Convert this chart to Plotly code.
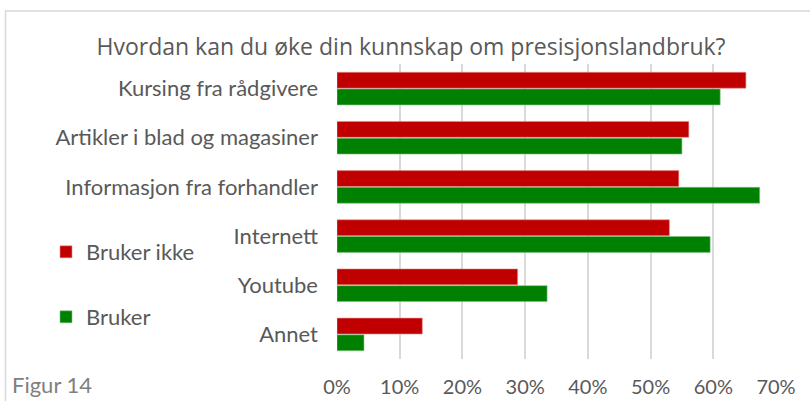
import plotly.graph_objects as go

categories = ["Kursing fra rådgivere", "Artikler i blad og magasiner", "Informasjon fra forhandler",
              "Internett", "Youtube", "Annet"]
bruker_ikke = [0.652, 0.561, 0.545, 0.530, 0.288, 0.136]
bruker = [0.611, 0.550, 0.674, 0.595, 0.335, 0.043]
tick_vals = [0, 0.1, 0.2, 0.3, 0.4, 0.5, 0.6, 0.7]
tick_text = ["0%", "10%", "20%", "30%", "40%", "50%", "60%", "70%"]
title_text = "Hvordan kan du øke din kunnskap om presisjonslandbruk?"
caption = "Figur 14"

W, H = 810, 401
TXT = "#595959"
LBL_FONT = "Lato, 'Open Sans', sans-serif"

def px_x(p):
    return p / W

def px_y(p):
    return 1 - p / H

fig = go.Figure()
fig.add_trace(go.Bar(y=categories, x=bruker_ikke, orientation="h", name="Bruker ikke",
                     marker=dict(color="#C00000", line=dict(color="#e88a8a", width=0.6)),
                     legend="legend"))
fig.add_trace(go.Bar(y=categories, x=bruker, orientation="h", name="Bruker",
                     marker=dict(color="#008000", line=dict(color="#80c080", width=0.6)),
                     legend="legend2"))

fig.update_layout(
    width=W, height=H,
    margin=dict(l=0, r=0, t=0, b=0, autoexpand=False),
    paper_bgcolor="white", plot_bgcolor="white",
    barmode="group", bargap=0.32, bargroupgap=0.05,
    font=dict(family=LBL_FONT, color=TXT, size=20),
    title=dict(text=title_text, x=411 / W, xanchor="center", y=px_y(47), yanchor="middle",
               automargin=False,
               font=dict(family="'Open Sans', sans-serif", size=23, color=TXT)),
    xaxis=dict(domain=[px_x(337), px_x(776)], range=[0, 0.70], tickvals=tick_vals, ticktext=tick_text,
               showgrid=True, gridcolor="#d9d9d9", gridwidth=1.5, zeroline=False, automargin=False,
               showline=False, ticks="", ticklabelstandoff=14,
               tickfont=dict(size=20, color=TXT, family=LBL_FONT)),
    yaxis=dict(domain=[px_y(359), px_y(64)], autorange="reversed", showgrid=False, automargin=False,
               ticks="", ticklabelstandoff=18, showline=False,
               tickfont=dict(size=22, color=TXT, family=LBL_FONT)),
    legend=dict(x=px_x(46), y=px_y(252), xanchor="left", yanchor="middle",
                font=dict(size=22, color=TXT, family=LBL_FONT), bgcolor="rgba(0,0,0,0)",
                itemwidth=30, tracegroupgap=0),
    legend2=dict(x=px_x(46), y=px_y(317), xanchor="left", yanchor="middle",
                 font=dict(size=22, color=TXT, family=LBL_FONT), bgcolor="rgba(0,0,0,0)",
                 itemwidth=30),
    showlegend=True,
)

fig.add_shape(type="rect", xref="paper", yref="paper", x0=px_x(5.5), x1=px_x(830),
              y0=px_y(420), y1=px_y(11), line=dict(color="#d9d9d9", width=1.5), layer="below")

fig.add_annotation(text=caption, xref="paper", yref="paper", x=px_x(10), y=px_y(384),
                   xanchor="left", yanchor="middle", showarrow=False,
                   font=dict(size=22, color="#7f7f7f", family=LBL_FONT))

fig.write_html("out.html", config={"displayModeBar": False},
               post_script="document.body.style.margin='0';")
